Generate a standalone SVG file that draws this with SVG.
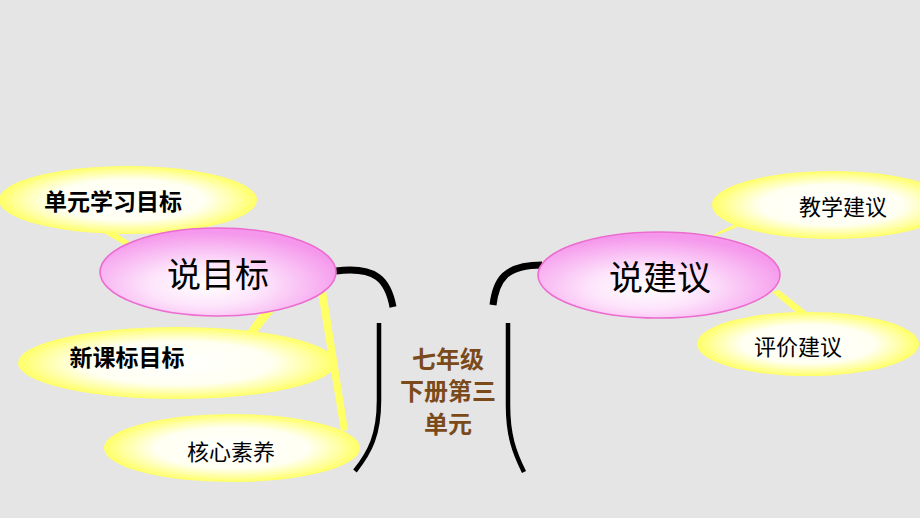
<svg xmlns="http://www.w3.org/2000/svg" width="920" height="518" viewBox="0 0 920 518">
<defs>
<radialGradient id="yel" cx="0.5" cy="0.5" r="0.5">
<stop offset="0" stop-color="#ffffff"/>
<stop offset="0.6" stop-color="#fffff2"/>
<stop offset="0.85" stop-color="#ffffa0"/>
<stop offset="1" stop-color="#ffff66"/>
</radialGradient>
<radialGradient id="pink" cx="0.45" cy="0.65" r="0.6">
<stop offset="0" stop-color="#ffffff"/>
<stop offset="0.4" stop-color="#fde4fb"/>
<stop offset="1" stop-color="#f597ec"/>
</radialGradient>
<style>
.y{fill:url(#yel);}
.p{fill:url(#pink);stroke:#ec6ccf;stroke-width:1.6;}
.con{fill:#ffff66;stroke:none;}
.blk{fill:none;stroke:#000;stroke-linecap:butt;}
.t{font-family:"Noto Sans CJK SC","Microsoft YaHei",sans-serif;fill:#000;text-anchor:middle;dominant-baseline:central;}
.b{font-weight:bold;}
.c{font-family:"Noto Sans CJK SC",sans-serif;fill:#7a4a1a;font-weight:bold;font-size:24px;text-anchor:middle;dominant-baseline:central;}
</style>
</defs>
<rect width="920" height="518" fill="#e6e5e6"/>
<g id="connectors">
<polygon class="con" points="104,233 116,233 139,248 133,250"/>
<polygon class="con" points="268,303 278,306 256,334 246,333"/>
<polygon class="con" points="318,292 326,291 348,430 341,431"/>
<polygon class="con" points="712,237 718,232 738,223 740,226"/>
<polygon class="con" points="772,292 779,290 808,313 798,314"/>
<path class="blk" stroke-width="7" d="M336,271 C376,266 388,280 393,307"/>
<path class="blk" stroke-width="7" d="M542,265 C505,265 496,280 493,305"/>
<path class="blk" stroke-width="4.5" d="M379,323 L379,400 C379,435 370,452 355,471"/>
<path class="blk" stroke-width="4.5" d="M508,323 L508,405 C508,435 514,452 524,472"/>
</g>
<g id="n-danyuan">
<ellipse class="y" cx="128" cy="200" rx="129" ry="34"/>
<text class="t b" x="113" y="200" font-size="23">单元学习目标</text>
</g>
<g id="n-shuomubiao">
<ellipse class="p" cx="218" cy="272" rx="118" ry="44"/>
<text class="t" x="218" y="272" font-size="34">说目标</text>
</g>
<g id="n-xinkebiao">
<ellipse class="y" cx="177" cy="363" rx="159" ry="36"/>
<text class="t b" x="127" y="356" font-size="23">新课标目标</text>
</g>
<g id="n-hexin">
<ellipse class="y" cx="232" cy="448" rx="128" ry="34"/>
<text class="t" x="231" y="450" font-size="22">核心素养</text>
</g>
<g id="n-center">
<text class="c" x="448" y="357">七年级</text>
<text class="c" x="448" y="389">下册第三</text>
<text class="c" x="448" y="422">单元</text>
</g>
<g id="n-shuojianyi">
<ellipse class="p" cx="659" cy="275" rx="121" ry="43"/>
<text class="t" x="660" y="275" font-size="34">说建议</text>
</g>
<g id="n-jiaoxue">
<ellipse class="y" cx="832" cy="205" rx="120" ry="34"/>
<text class="t" x="843" y="205" font-size="22">教学建议</text>
</g>
<g id="n-pingjia">
<ellipse class="y" cx="808" cy="344" rx="111" ry="32"/>
<text class="t" x="798" y="345" font-size="22">评价建议</text>
</g>
</svg>
